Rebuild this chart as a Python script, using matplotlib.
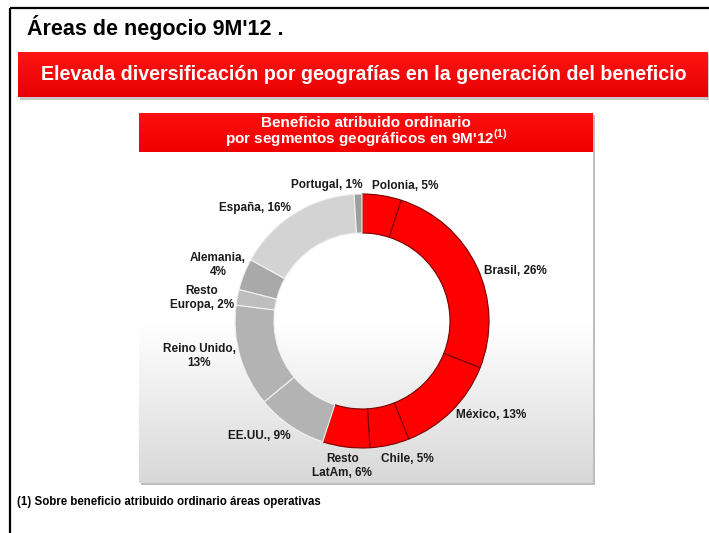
"""Donut chart of ordinary attributable profit by geography, 9M'12."""

import matplotlib

matplotlib.use("Agg")
import matplotlib.pyplot as plt
from matplotlib.patches import Rectangle
import numpy as np

TITLE = "Áreas de negocio 9M'12 ."
BANNER = "Elevada diversificación por geografías en la generación del beneficio"
HEADER = ("Beneficio atribuido ordinario\n"
          r"por segmentos geográficos en 9M'12$^{\mathbf{(1)}}$")
FOOTNOTE = "(1) Sobre beneficio atribuido ordinario áreas operativas"

# clockwise from 12 o'clock
REGIONS = ["Polonia", "Brasil", "México", "Chile", "Resto\nLatAm", "EE.UU.",
           "Reino Unido", "Resto\nEuropa", "Alemania", "España", "Portugal"]
SHARES = [5, 26, 13, 5, 6, 9, 13, 2, 4, 16, 1]
WRAP_AFTER_COMMA = {"Reino Unido", "Alemania"}

RED = "#ff0000"
SLICE_COLORS = [RED, RED, RED, RED, RED, "#b3b3b3", "#b3b3b3", "#bebebe",
                "#a9a9a9", "#d3d3d3", "#9f9f9f"]

# small pixel nudges of the pie labels (dx, dy), to follow the slide layout
LABEL_NUDGE = {
    "Polonia": (-11, -3),
    "Portugal": (5, -3),
    "Brasil": (1, 7),
    "Alemania": (8, -7),
    "Resto\nEuropa": (3, 2),
    "Reino Unido": (2, -2),
    "EE.UU.": (3, 5),
    "Chile": (-10, 8),
    "Resto\nLatAm": (-3, 13),
}

W, H = 709, 533
CENTER = (362, 321)
FONT = "Liberation Sans"

plt.rcParams["font.family"] = [FONT, "DejaVu Sans"]
plt.rcParams["mathtext.fontset"] = "custom"
plt.rcParams["mathtext.rm"] = f"{FONT}"
plt.rcParams["mathtext.bf"] = f"{FONT}:bold"


def gradient(ax, x0, x1, y0, y1, top, bottom, start=0.0, zorder=1):
    t = np.linspace(0, 1, 256)
    t = np.clip((t - start) / (1 - start), 0, 1)
    top = np.array(matplotlib.colors.to_rgb(top))
    bottom = np.array(matplotlib.colors.to_rgb(bottom))
    img = top[None, :] * (1 - t[:, None]) + bottom[None, :] * t[:, None]
    ax.imshow(img[:, None, :], extent=(x0, x1, y1, y0), aspect="auto",
              interpolation="bilinear", zorder=zorder)


fig = plt.figure(figsize=(W / 100, H / 100), dpi=100)
ax = fig.add_axes([0, 0, 1, 1])

# page frame
ax.plot([10, W], [8, 8], color="black", lw=1.6, zorder=5, solid_capstyle="butt")
ax.plot([10, 10], [8, H], color="black", lw=1.6, zorder=5, solid_capstyle="butt")

ax.text(27, 35.5, TITLE, fontsize=15.5, fontweight="bold", va="baseline",
        ha="left", color="black")

# red banner with shadow
ax.add_patch(Rectangle((20, 54), W - 20, 46, color="#c8c8c8", lw=0, zorder=1))
gradient(ax, 18, 708, 52, 97, "#ff1414", "#e80000", zorder=2)
ax.text(364, 79.5, BANNER, fontsize=14.1, fontweight="bold", color="white",
        ha="center", va="baseline", zorder=3)

# chart panel
ax.add_patch(Rectangle((141, 115), 454, 370, color="#bdbdbd", lw=0, zorder=1))
gradient(ax, 139, 593, 113, 483, "#ffffff", "#d8d8d8", start=0.57, zorder=2)
gradient(ax, 139, 593, 113, 152, "#ff1010", "#f00000", zorder=3)
ax.text(366, 132.5, HEADER, fontsize=11, fontweight="bold", color="white",
        ha="center", va="center", multialignment="center", linespacing=0.85,
        zorder=4)

labels = [f"{name},\n{s}%" if name in WRAP_AFTER_COMMA else f"{name}, {s}%"
          for name, s in zip(REGIONS, SHARES)]
wedges, texts = ax.pie(
    SHARES,
    labels=labels,
    colors=SLICE_COLORS,
    center=CENTER,
    radius=127,
    startangle=-90,
    counterclock=True,
    labeldistance=1.05,
    frame=True,
    wedgeprops=dict(width=39, linewidth=0.8),
    textprops=dict(fontsize=8.5, fontweight="bold", color="#1a1a1a"),
)
for wedge, color in zip(wedges, SLICE_COLORS):
    wedge.set_zorder(5)
    wedge.set_edgecolor("#7a0000" if color == RED else "#f2f2f2")
for name, text in zip(REGIONS, texts):
    text.set_zorder(6)
    text.set_multialignment("center")
    x, y = text.get_position()
    text.set_horizontalalignment("left" if x > CENTER[0] else "right")
    dx, dy = LABEL_NUDGE.get(name, (0, 0))
    text.set_position((x + dx, y + dy))
# "Resto LatAm" sits centred under its slice
texts[REGIONS.index("Resto\nLatAm")].set_horizontalalignment("center")

ax.text(17, 505, FOOTNOTE, fontsize=8.3, fontweight="bold", color="black",
        ha="left", va="baseline")

ax.set_xlim(0, W)
ax.set_ylim(H, 0)
ax.axis("off")
fig.savefig("out.png", dpi=100, facecolor="white")
